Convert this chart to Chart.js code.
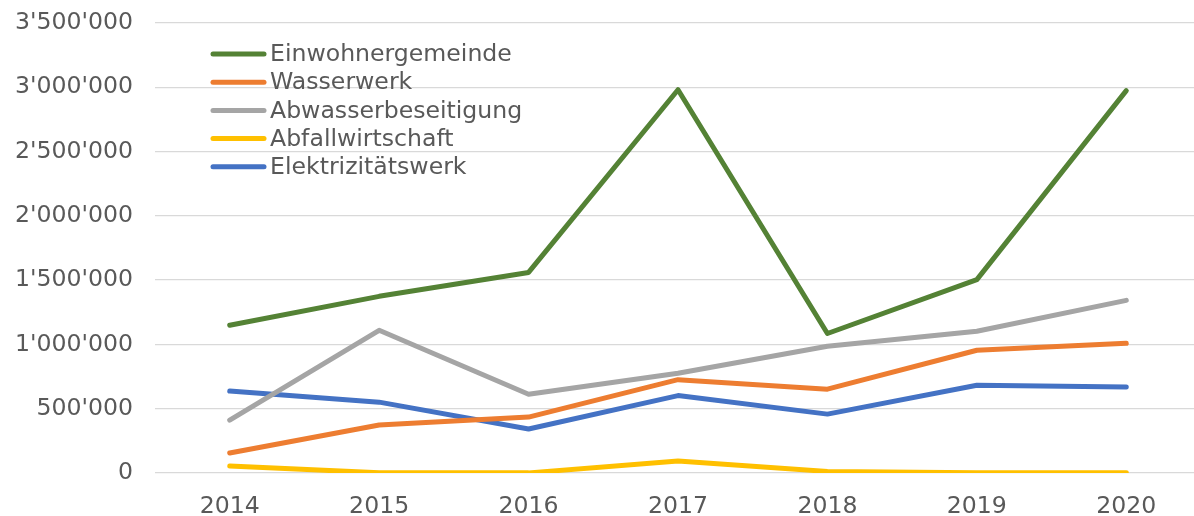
<!DOCTYPE html>
<html>
<head>
<meta charset="utf-8">
<script src="https://cdn.jsdelivr.net/npm/chart.js@4"></script>
<style>
  html, body { margin: 0; padding: 0; background: #fff; overflow: hidden; }
  #wrap { width: 1194px; height: 516px; overflow: hidden; }
</style>
</head>
<body>
<div id="wrap"><canvas id="chart" width="1201" height="516"></canvas></div>
<script>
const years = ['2014', '2015', '2016', '2017', '2018', '2019', '2020'];
const einwohnergemeinde = [1149000, 1374000, 1560000, 2981000, 1085000, 1504000, 2974000];
const wasserwerk = [155000, 373000, 435000, 726000, 652000, 955000, 1009000];
const abwasser = [411000, 1110000, 613000, 776000, 986000, 1102000, 1343000];
const abfall = [54000, 2000, 1000, 93000, 12000, 2000, 1000];
const elektrizitaet = [637000, 551000, 342000, 602000, 458000, 683000, 668000];
const yTicks = [0, 500000, 1000000, 1500000, 2000000, 2500000, 3000000, 3500000];

const font = "'DejaVu Sans', Verdana, sans-serif";
const textColor = '#595959';

function fmt(v) {
  return String(v).replace(/\B(?=(\d{3})+(?!\d))/g, "'");
}

// legend drawn inside the plot, like the original
const insideLegend = {
  id: 'insideLegend',
  afterDraw(chart) {
    const ctx = chart.ctx;
    ctx.save();
    ctx.font = '23.6px ' + font;
    ctx.textBaseline = 'middle';
    chart.data.datasets.forEach((ds, i) => {
      const y = 54 + i * 28.2;
      ctx.strokeStyle = ds.borderColor;
      ctx.lineWidth = 5;
      ctx.lineCap = 'round';
      ctx.beginPath();
      ctx.moveTo(213, y);
      ctx.lineTo(264, y);
      ctx.stroke();
      ctx.fillStyle = textColor;
      ctx.fillText(ds.label, 270, y + 1);
    });
    ctx.restore();
  }
};

function line(label, data, color) {
  return {
    label: label,
    data: data,
    borderColor: color,
    backgroundColor: color,
    borderWidth: 5,
    borderCapStyle: 'round',
    borderJoinStyle: 'round',
    pointRadius: 0,
    tension: 0
  };
}

const ctx = document.getElementById('chart');
new Chart(ctx, {
  type: 'line',
  data: {
    labels: years,
    datasets: [
      line('Einwohnergemeinde', einwohnergemeinde, '#548235'),
      line('Wasserwerk', wasserwerk, '#ED7D31'),
      line('Abwasserbeseitigung', abwasser, '#A5A5A5'),
      line('Abfallwirtschaft', abfall, '#FFC000'),
      line('Elektrizitätswerk', elektrizitaet, '#4472C4')
    ]
  },
  options: {
    responsive: false,
    animation: false,
    layout: { padding: { top: 23, right: 0, left: 0, bottom: 0 } },
    plugins: {
      legend: { display: false },
      tooltip: { enabled: false }
    },
    scales: {
      x: {
        offset: true,
        grid: { display: false },
        border: { display: false },
        ticks: { color: textColor, font: { family: font, size: 23.6 }, padding: 12, maxRotation: 0 },
        afterFit(scale) { scale.height = 43; }
      },
      y: {
        min: 0,
        max: 3500000,
        afterBuildTicks(scale) { scale.ticks = yTicks.map(v => ({ value: v })); },
        grid: { color: '#D9D9D9', lineWidth: 1.3, drawTicks: false },
        border: { display: false },
        ticks: {
          color: textColor,
          font: { family: font, size: 23.6 },
          padding: 22,
          callback: v => fmt(v)
        },
        afterFit(scale) {
          scale.width = 155;
          scale.paddingTop = 0;
          scale.paddingBottom = 0;
        }
      }
    }
  },
  plugins: [insideLegend]
});
</script>
</body>
</html>
